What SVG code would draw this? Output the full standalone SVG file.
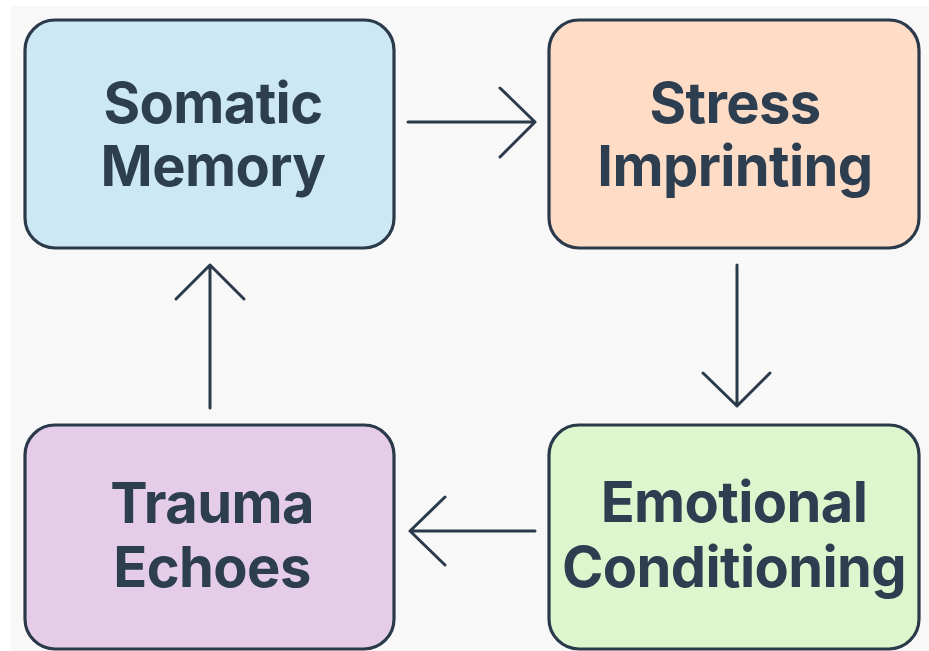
<svg xmlns="http://www.w3.org/2000/svg" width="929" height="651" viewBox="0 0 929 651">
<style>
.box{stroke:#2b3a4a;stroke-width:3.2}
.lbl{font-family:Inter,"Liberation Sans",sans-serif;font-weight:700;font-size:56px;letter-spacing:-0.6px;fill:#2d3e50;text-anchor:middle}
.con{fill:none;stroke:#2b3a4a;stroke-width:3;stroke-linecap:round;stroke-linejoin:round}
</style>
<rect width="929" height="651" fill="#ffffff"/>
<rect x="11" y="6" width="918" height="645" fill="#f8f8f8"/>
<g id="somatic-memory">
<rect class="box" x="25" y="20" width="369" height="228" rx="30" fill="#cbe8f4"/>
<text class="lbl" x="213" y="123">Somatic</text>
<text class="lbl" x="213" y="186">Memory</text>
</g>
<g id="stress-imprinting">
<rect class="box" x="549" y="20" width="370" height="228" rx="30" fill="#fedcc6"/>
<text class="lbl" x="735" y="123">Stress</text>
<text class="lbl" x="735" y="186">Imprinting</text>
</g>
<g id="emotional-conditioning">
<rect class="box" x="549" y="425" width="370" height="224" rx="30" fill="#def6cd"/>
<text class="lbl" x="734" y="522">Emotional</text>
<text class="lbl" x="734" y="587">Conditioning</text>
</g>
<g id="trauma-echoes">
<rect class="box" x="25" y="425" width="369" height="224" rx="30" fill="#e5cdea"/>
<text class="lbl" x="212" y="523">Trauma</text>
<text class="lbl" x="212" y="587">Echoes</text>
</g>
<g id="connectors">
<path class="con" d="M408 122H535M500 88L535 122L500 157"/>
<path class="con" d="M737 265V406M703 373L737 406L770 373"/>
<path class="con" d="M535 531H410M445 497L410 531L445 565"/>
<path class="con" d="M210 408V265M176 299L210 265L244 299"/>
</g>
</svg>
